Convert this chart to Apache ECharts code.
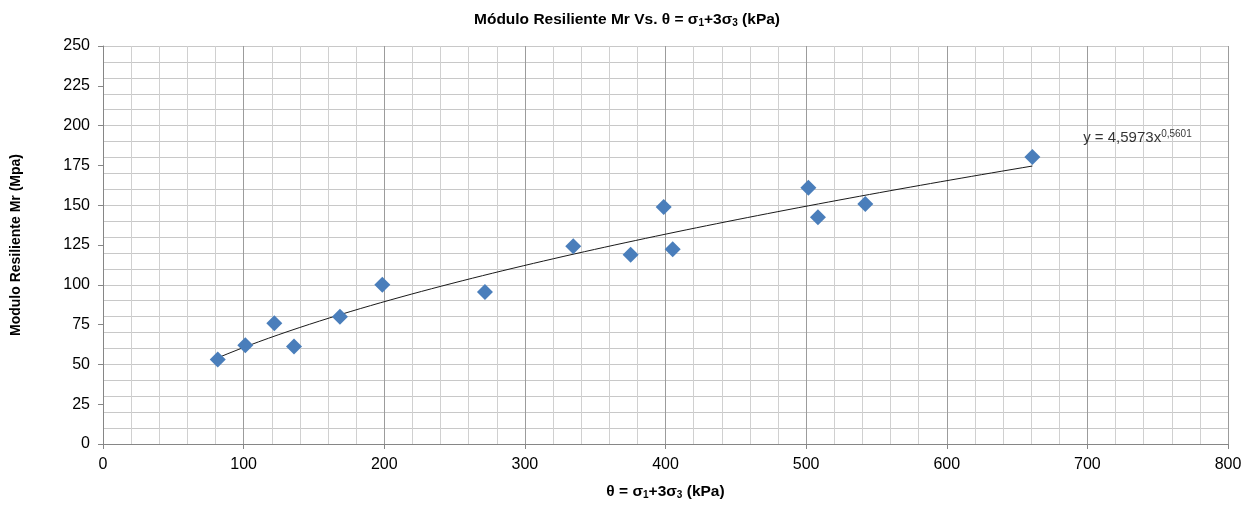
<!DOCTYPE html>
<html>
<head>
<meta charset="utf-8">
<script src="https://cdn.jsdelivr.net/npm/echarts@6/dist/echarts.min.js"></script>
<style>
html,body{margin:0;padding:0;background:#fff;}
#c{width:1250px;height:505px;}
</style>
</head>
<body>
<div id="c"></div>
<script>
// Data
const thetaKPa = [81.6, 101.2, 121.8, 135.8, 168.5, 198.6, 271.6, 334.4, 375.2, 398.7, 405.1, 501.6, 508.4, 542.1, 660.9];
const mrMPa    = [53.1, 62.1, 75.8, 61.3, 80.0, 100.0, 95.4, 124.2, 118.9, 148.9, 122.3, 161.0, 142.5, 150.8, 180.2];
// Power trendline coefficients shown on the chart: y = a * x^b
const trendA = 4.5973;
const trendB = 0.5601;
const trendLabel = ['y = 4,5973x', '0,5601'];
const trendLabelAt = [697, 192];
const xTicks = [0, 100, 200, 300, 400, 500, 600, 700, 800];
const yTicks = [0, 25, 50, 75, 100, 125, 150, 175, 200, 225, 250];

const points = thetaKPa.map((x, i) => [x, mrMPa[i]]);
const xMinData = Math.min(...thetaKPa), xMaxData = Math.max(...thetaKPa);
const trend = [];
const steps = 80;
for (let i = 0; i <= steps; i++) {
  const x = xMinData + (xMaxData - xMinData) * i / steps;
  trend.push([x, trendA * Math.pow(x, trendB)]);
}

const FONT = '"Liberation Sans", Arial, sans-serif';
const chart = echarts.init(document.getElementById('c'), null, {renderer: 'canvas'});
chart.setOption({
  animation: false,
  backgroundColor: '#fff',
  textStyle: {fontFamily: FONT},
  title: {
    text: '{t|Módulo Resiliente Mr Vs. θ = σ}{s|1}{t|+3σ}{s|3}{t| (kPa)}',
    left: 622, textAlign: 'center',
    top: 6,
    textStyle: {
      rich: {
        t: {fontFamily: FONT, fontWeight: 'bold', fontSize: 15.5, color: '#000'},
        s: {fontFamily: FONT, fontWeight: 'bold', fontSize: 10, color: '#000', verticalAlign: 'bottom', padding: [7, 0, 0, 0]}
      }
    }
  },
  grid: {left: 103, right: 22, top: 46, bottom: 59, containLabel: false},
  xAxis: {
    type: 'value', min: xTicks[0], max: xTicks[xTicks.length - 1], interval: 100,
    name: '{t|θ = σ}{s|1}{t|+3σ}{s|3}{t| (kPa)}',
    nameLocation: 'middle', nameGap: 39,
    nameTextStyle: {
      rich: {
        t: {fontFamily: FONT, fontWeight: 'bold', fontSize: 15.5, color: '#000'},
        s: {fontFamily: FONT, fontWeight: 'bold', fontSize: 10, color: '#000', verticalAlign: 'bottom', padding: [7, 0, 0, 0]}
      }
    },
    axisLine: {show: true, lineStyle: {color: '#868686', width: 1}},
    axisTick: {show: true, length: 5, lineStyle: {color: '#868686'}},
    axisLabel: {fontFamily: FONT, fontSize: 16, color: '#000', margin: 13},
    splitLine: {show: true, lineStyle: {color: '#9c9c9c', width: 1}},
    minorTick: {show: false, splitNumber: 5},
    minorSplitLine: {show: true, lineStyle: {color: '#d0d0d0', width: 1}}
  },
  yAxis: [
    {
      type: 'value', min: yTicks[0], max: yTicks[yTicks.length - 1], interval: 25,
      name: 'Modulo Resiliente Mr (Mpa)',
      nameLocation: 'middle', nameGap: 80, nameRotate: 90,
      nameTextStyle: {fontFamily: FONT, fontWeight: 'bold', fontSize: 14, color: '#000'},
      axisLine: {show: true, lineStyle: {color: '#868686', width: 1}},
      axisTick: {show: true, length: 5, lineStyle: {color: '#868686'}},
      axisLabel: {fontFamily: FONT, fontSize: 16, color: '#000', margin: 13},
      splitLine: {show: false}
    },
    {
      type: 'value', min: 0, max: 250, interval: 10, position: 'left', offset: 0,
      axisLine: {show: false}, axisTick: {show: false}, axisLabel: {show: false},
      splitLine: {show: true, lineStyle: {color: '#c8c8c8', width: 1}}
    }
  ],
  series: [
    {
      type: 'line', data: trend, yAxisIndex: 0, showSymbol: false, smooth: false,
      lineStyle: {color: '#1a1a1a', width: 1}, z: 3, silent: true
    },
    {
      type: 'scatter', data: points, yAxisIndex: 0, symbol: 'diamond', symbolSize: 16,
      itemStyle: {color: '#4a7ebb', opacity: 1}, z: 4
    },
    {
      type: 'scatter', data: [trendLabelAt], yAxisIndex: 0, symbolSize: 0, silent: true,
      label: {
        show: true, position: 'right', distance: 0,
        formatter: () => '{a|' + trendLabel[0] + '}{b|' + trendLabel[1] + '}',
        rich: {
          a: {fontFamily: FONT, fontSize: 15, color: '#000'},
          b: {fontFamily: FONT, fontSize: 10, color: '#000', verticalAlign: 'top', padding: [0, 0, 8, 0]}
        }
      },
      z: 5
    }
  ]
});
</script>
</body>
</html>
